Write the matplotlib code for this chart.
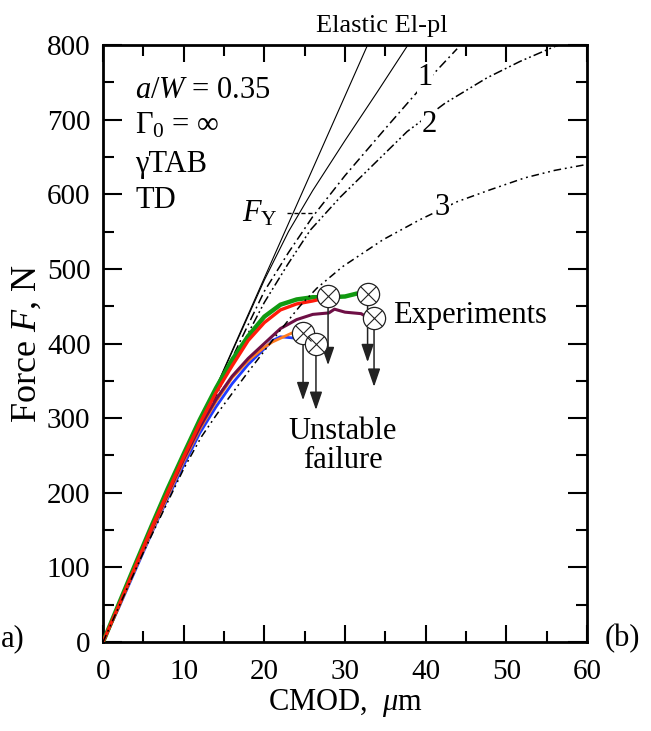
import matplotlib
matplotlib.use("Agg")
import matplotlib.pyplot as plt
from matplotlib.ticker import MultipleLocator

plt.rcParams['font.family'] = ['Liberation Serif', 'DejaVu Serif']
plt.rcParams['mathtext.fontset'] = 'custom'
plt.rcParams['mathtext.rm'] = 'Liberation Serif'
plt.rcParams['mathtext.it'] = 'Liberation Serif:italic'
plt.rcParams['mathtext.bf'] = 'Liberation Serif:bold'

# ---- model curves: CMOD (um) vs force (N) ----
elastic_x = [0, 32.8]
elastic_F = [0, 800]

elpl_x = [0, 10, 20, 23, 26, 30, 34, 37.8]
elpl_F = [0, 244, 485, 550, 605, 672, 737, 800]

c1_x = [0, 5, 10, 15, 20, 23, 26, 30, 35, 40, 43.9]
c1_F = [0, 123, 243, 358, 470, 522, 570, 625, 688, 750, 795]

c2_x = [0, 5, 10, 15, 20, 22.9, 25.7, 29.4, 32.7, 37.7, 42.4, 47.6, 51.7, 56, 57.5]
c2_F = [0, 121, 240, 352, 455, 506, 552, 596, 631, 684, 722, 756, 778, 798, 803]

c3_x = [0, 5, 10, 12.2, 14.1, 16, 18, 20, 22, 24.4, 26.5, 29.7, 34.7, 39.3, 43.9, 48, 52.3, 56, 60]
c3_F = [0, 120, 232, 275, 305, 333, 362, 390, 418, 450, 474, 503, 539, 566, 590, 606, 622, 632, 640]

# ---- experiments ----
green_x = [0, 2, 4, 6, 8, 10, 12, 14, 16, 18, 20, 22, 24, 26, 28, 30, 31.5, 32.3]
green_F = [0, 52, 104, 155, 205, 252, 298, 340, 378, 410, 436, 452, 459, 462, 462, 463, 467, 465]

red_x = [0, 2, 4, 6, 8, 10, 12, 14, 16, 18, 20, 22, 24, 26, 26.8]
red_F = [0, 50, 101, 152, 200, 248, 293, 334, 370, 404, 428, 445, 453, 457, 459]

purple_x = [0, 2, 4, 6, 8, 10, 12, 14, 16, 18, 20, 22, 24, 26, 28, 28.7, 30, 31, 32, 32.6]
purple_F = [0, 50, 100, 150, 198, 245, 288, 325, 356, 380, 400, 420, 432, 439, 441, 446, 442, 441, 440, 436]

orange_x = [0, 2, 4, 6, 8, 10, 12, 14, 16, 18, 20, 21, 22, 23, 23.6]
orange_F = [0, 48, 98, 147, 195, 242, 285, 322, 354, 377, 395, 402, 407, 412, 415]

blue_x = [0, 2, 4, 6, 8, 10, 12, 14, 16, 18, 20, 21, 22, 23, 24, 24.6]
blue_F = [0, 47, 96, 145, 192, 237, 280, 315, 346, 372, 393, 404, 409, 408, 407, 405]

# failure points and where their arrows end
fail_x = [27.9, 32.8, 33.6, 24.8, 26.4]
fail_F = [464, 466, 434, 414, 399]
arrow_end_F = [371, 375, 342, 324, 311]

x_ticks = [0, 10, 20, 30, 40, 50, 60]
y_ticks = [0, 100, 200, 300, 400, 500, 600, 700, 800]

fig = plt.figure(figsize=(6.51, 7.31), dpi=100)
ax = fig.add_axes([103 / 651, 89 / 731, 484 / 651, 597 / 731])
ax.set_xlim(0, 60)
ax.set_ylim(0, 800)

# model curves
ax.plot(elastic_x, elastic_F, color='black', lw=0.8, zorder=2)
ax.plot(elpl_x, elpl_F, color='black', lw=0.8, zorder=2)
ax.plot(c1_x, c1_F, color='black', lw=1.1, dashes=[6, 2.5, 1.2, 2.5], zorder=2)
ax.plot(c2_x, c2_F, color='black', lw=1.1, dashes=[6, 2, 1.2, 2, 1.2, 2], zorder=2)
ax.plot(c3_x, c3_F, color='black', lw=1.1, dashes=[5, 2.5, 1.2, 2.5, 1.2, 2.5], zorder=4)

# experimental records
ax.plot(blue_x, blue_F, color='#1f3cff', lw=2.0, zorder=3)
ax.plot(orange_x, orange_F, color='#ff7a1f', lw=2.0, zorder=3)
ax.plot(purple_x, purple_F, color='#6e0f45', lw=2.2, zorder=3)
ax.plot(green_x, green_F, color='#119a11', lw=3.2, zorder=3)
ax.plot(red_x, red_F, color='#ff1a0a', lw=2.4, zorder=3)

# failure arrows
r_data = 14.5
for fx, fF, eF in zip(fail_x, fail_F, arrow_end_F):
    ax.annotate('', xy=(fx, eF), xytext=(fx, fF - r_data),
                arrowprops=dict(arrowstyle='-|>,head_length=1.1,head_width=0.38',
                                mutation_scale=10, color='#222222', lw=1.1,
                                shrinkA=0, shrinkB=0), zorder=5)
ax.plot(fail_x, fail_F, ls='none', marker='o', ms=16, mfc='white', mec='#222222',
        mew=0.9, zorder=6)
ax.plot(fail_x, fail_F, ls='none', marker='x', ms=11, mec='#222222', mew=0.8, zorder=7)

# axes styling
ax.xaxis.set_major_locator(MultipleLocator(10))
ax.xaxis.set_minor_locator(MultipleLocator(5))
ax.yaxis.set_major_locator(MultipleLocator(100))
ax.yaxis.set_minor_locator(MultipleLocator(50))
ax.set_xticks(x_ticks)
ax.set_yticks(y_ticks)
ax.tick_params(which='both', direction='in', top=True, right=True, width=1.5,
               labelsize=21)
ax.tick_params(axis='y', which='major', length=14, pad=9)
ax.tick_params(axis='y', which='minor', length=8)
ax.tick_params(axis='x', which='major', length=12, pad=12)
ax.tick_params(axis='x', which='minor', length=8)
for s in ax.spines.values():
    s.set_linewidth(2.0)

ax.set_xlabel(r'CMOD,  $\mu$m', fontsize=22, labelpad=2)
ax.set_ylabel(r'Force $F$, N', fontsize=26, labelpad=2)

# annotations
fs = 22
ax.text(4.0, 729, r'$a/W$ = 0.35', fontsize=fs, va='baseline')
ax.text(4.0, 682, r'$\Gamma_0$ = $\infty$', fontsize=fs, va='baseline')
ax.text(4.0, 630, 'γTAB', fontsize=fs, va='baseline')
ax.text(4.0, 582, 'TD', fontsize=fs, va='baseline')

ax.text(34.6, 818, 'Elastic El-pl', fontsize=19, ha='center', va='baseline',
        clip_on=False)

ax.text(21.6, 564, r'$F_{\rm Y}$', fontsize=fs, ha='right', va='baseline')
ax.plot([22.8, 26.0], [575, 575], color='black', lw=1.0, dashes=[3, 2], zorder=2)

lbl_box = dict(facecolor='white', edgecolor='none', pad=0.5)
ax.text(39.9, 756, '1', fontsize=fs, ha='center', va='center', bbox=lbl_box, zorder=4)
ax.text(40.5, 693, '2', fontsize=fs, ha='center', va='center', bbox=lbl_box, zorder=4)
ax.text(42.1, 582, '3', fontsize=fs, ha='center', va='center', bbox=lbl_box, zorder=5)

ax.text(35.9, 438, 'Experiments', fontsize=fs, va='center')
ax.text(29.7, 263, 'Unstable\nfailure', fontsize=fs, ha='center', va='center',
        linespacing=1.0)

ax.text(64.4, 5, '(b)', fontsize=fs, ha='center', va='center', clip_on=False)
ax.text(-12.6, 5, 'a)', fontsize=fs, ha='left', va='center', clip_on=False)

fig.savefig('out.png', dpi=100)
